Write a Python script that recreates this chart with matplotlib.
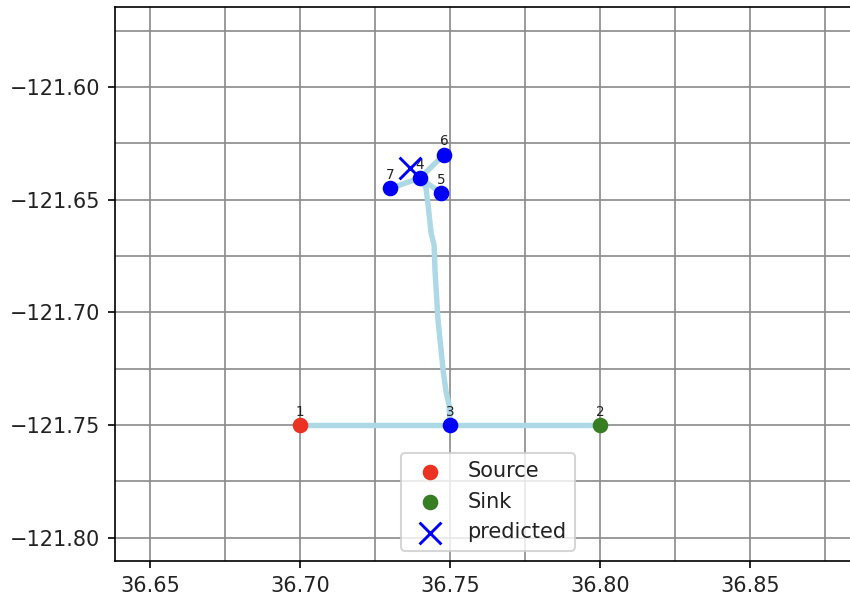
import matplotlib
matplotlib.use("Agg")
import matplotlib.pyplot as plt
from matplotlib.ticker import MultipleLocator, FuncFormatter

# Node coordinates (x, y) and labels
node_ids = [1, 2, 3, 4, 5, 6, 7]
node_x = [36.700, 36.800, 36.750, 36.740, 36.747, 36.748, 36.730]
node_y = [-121.750, -121.750, -121.750, -121.6404, -121.647, -121.630, -121.645]

# Road geometry from node 3 up to node 4
road_x = [36.7500, 36.7497, 36.7487, 36.7477, 36.7460, 36.7450, 36.7447,
          36.7437, 36.7427, 36.7420, 36.7400]
road_y = [-121.7500, -121.7412, -121.7354, -121.7256, -121.7034, -121.6812,
          -121.6701, -121.6648, -121.6524, -121.6448, -121.6404]

# Straight edges between node ids
edges = [(1, 3), (3, 2), (4, 5), (4, 6), (4, 7)]

source_id = 1
sink_id = 2
predicted_x = [36.7367]
predicted_y = [-121.6360]

DPI = 150
fig = plt.figure(figsize=(850 / DPI, 596 / DPI), dpi=DPI)
W, H = 850, 596
left_px, right_px, top_px, bottom_px = 115, 861, 7, 561
ax = fig.add_axes([left_px / W, (H - bottom_px) / H,
                   (right_px - left_px) / W, (bottom_px - top_px) / H])

line_color = "#ADD8E6"
pos = {n: (x, y) for n, x, y in zip(node_ids, node_x, node_y)}

for a, b in edges:
    ax.plot([pos[a][0], pos[b][0]], [pos[a][1], pos[b][1]],
            color=line_color, lw=2.6, zorder=2, solid_capstyle="round")
ax.plot(road_x, road_y, color=line_color, lw=2.6, zorder=2,
        solid_capstyle="round", solid_joinstyle="round")

other = [n for n in node_ids if n not in (source_id, sink_id)]
ax.scatter([pos[n][0] for n in other], [pos[n][1] for n in other],
           s=42, color="#0000F5", zorder=3)
ax.scatter([pos[source_id][0]], [pos[source_id][1]], s=42,
           color="#EA3323", zorder=3, label="Source")
ax.scatter([pos[sink_id][0]], [pos[sink_id][1]], s=42,
           color="#377E22", zorder=3, label="Sink")
ax.scatter(predicted_x, predicted_y, marker="x", s=110, linewidths=1.4,
           color="#0000F5", zorder=4, label="predicted")

for n in node_ids:
    ax.annotate(str(n), pos[n], xytext=(0, 3), textcoords="offset points",
                ha="center", va="bottom", fontsize=6.5, color="#222222")

px_per_x = 3000.0
px_per_y = 338 / 0.15
x0 = 36.65 - (150 - left_px) / px_per_x
x1 = x0 + (right_px - left_px) / px_per_x
y1 = -121.60 + (87 - top_px) / px_per_y
y0 = -121.75 - (bottom_px - 425) / px_per_y
ax.set_xlim(x0, x1)
ax.set_ylim(y0, y1)


def fmt(v, _pos):
    return f"{v:.2f}".replace("-", "\u2212")


ax.xaxis.set_major_locator(MultipleLocator(0.05))
ax.yaxis.set_major_locator(MultipleLocator(0.05))
ax.xaxis.set_minor_locator(MultipleLocator(0.025))
ax.yaxis.set_minor_locator(MultipleLocator(0.025))
ax.xaxis.set_major_formatter(FuncFormatter(fmt))
ax.yaxis.set_major_formatter(FuncFormatter(fmt))
ax.tick_params(which="minor", length=0)
ax.tick_params(which="major", labelsize=10, labelcolor="#222222")
ax.grid(True, which="both", color="#8a8a8a", lw=0.8)
ax.set_axisbelow(True)

leg = ax.legend(loc="lower center", fontsize=10)
for t in leg.get_texts():
    t.set_color("#222222")

fig.savefig("out.png", dpi=DPI)
